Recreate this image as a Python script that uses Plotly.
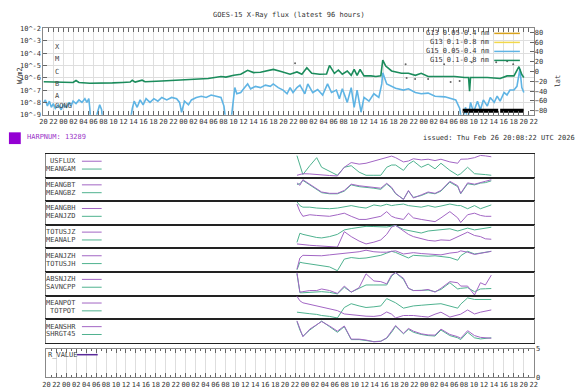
import plotly.graph_objects as go
import pandas as pd

W, H = 588, 392
START = pd.Timestamp("2026-02-22 20:00")
END = pd.Timestamp("2026-02-26 22:00")

# ---------------- GOES-15 data (hours since START, log10 flux) ----------------
G15_LONG_H = [0.0, 2.96, 5.92, 6.51, 7.10, 9.27, 11.83, 13.80, 15.77, 17.35, 17.75, 18.34, 19.72, 20.31,
              23.66, 27.61, 31.55, 32.93, 35.49, 36.48, 38.05, 39.44, 40.82, 42.00, 43.38, 44.76, 45.95,
              47.33, 48.71, 49.30, 50.68, 51.66, 52.65, 53.63, 55.21, 56.59, 57.18, 58.17, 58.96, 59.74,
              60.73, 61.52, 62.11, 62.70, 63.29, 64.08, 65.46, 66.45, 67.44, 67.83, 68.42, 69.60, 71.57,
              72.96, 74.34, 75.52, 76.90, 79.46, 82.22, 84.19, 84.98, 85.18, 85.37, 88.73, 91.29, 92.68,
              94.06, 95.05, 95.64, 96.03]
G15_LONG_LOG = [-6.32, -6.35, -6.38, -6.22, -6.38, -6.45, -6.45, -6.42, -6.38, -6.35, -6.2, -6.35, -6.2, -6.33,
                -6.27, -6.2, -6.14, -6.06, -5.9, -5.95, -5.8, -5.72, -5.4, -5.58, -5.55, -5.45, -5.32,
                -5.48, -5.64, -5.71, -5.53, -5.71, -5.18, -5.64, -5.71, -5.7, -5.0, -5.64, -5.37, -5.71,
                -5.45, -5.8, -5.32, -5.8, -5.32, -5.85, -5.85, -5.9, -5.85, -4.57, -5.05, -5.45, -5.64,
                -5.64, -5.8, -5.64, -5.9, -5.9, -5.9, -5.98, -5.98, -7.1, -5.98, -5.98, -6.06, -5.85,
                -5.85, -5.1, -5.75, -5.98]

G15_SHORT_H = [0.0, 0.39, 0.79, 1.18, 1.58, 1.97, 2.37, 2.96, 3.55, 3.94, 4.54, 5.13, 5.52, 5.92, 6.51, 7.10,
               7.69, 8.28, 8.68, 9.07, 9.27, 9.46, 10.25, 10.84, 11.24, 11.63, 11.83, 17.35, 17.75, 18.14,
               18.73, 19.32, 19.92, 20.51, 21.30, 22.08, 22.87, 23.66, 24.65, 25.63, 26.62, 27.21, 27.61,
               28.20, 28.99, 29.58, 30.56, 31.55, 32.53, 33.52, 34.51, 35.49, 36.08, 36.48, 37.46, 37.86,
               38.25, 38.65, 39.44, 40.22, 40.82, 41.41, 42.39, 43.38, 44.37, 45.35, 45.94, 46.93, 47.91,
               48.70, 49.30, 49.89, 50.68, 51.27, 52.25, 52.84, 53.83, 54.82, 55.80, 56.79, 57.58, 58.56,
               59.15, 59.74, 60.73, 61.52, 62.11, 62.70, 63.49, 64.08, 65.07, 66.05, 67.04, 67.63, 67.83,
               68.62, 69.60, 70.39, 71.97, 72.96, 74.34, 75.52, 76.90, 78.28, 80.25, 81.44, 82.42, 83.21,
               83.61, 84.39, 84.79, 85.38, 85.97, 86.76, 87.35, 87.94, 88.73, 89.32, 90.11, 90.70, 91.29,
               92.08, 92.67, 93.26, 94.05, 94.65, 95.24, 95.63, 96.03]
G15_SHORT_LOG = [-8.0, -7.8, -8.3, -7.9, -8.4, -8.1, -8.5, -8.2, -8.6, -8.2, -8.4, -8.0, -8.3, -7.9, -8.1, -7.8,
                 -8.0, -7.7, -8.0, -7.7, -8.5, -9.6, -9.6, -8.8, -8.2, -8.6, -9.6, -9.6, -8.5, -7.9,
                 -8.4, -7.8, -8.2, -7.7, -8.0, -7.7, -7.9, -7.6, -7.8, -7.6, -7.7, -8.0, -8.8,
                 -7.9, -8.2, -7.8, -7.6, -7.5, -7.6, -7.4, -7.5, -7.6, -8.3, -9.6, -9.6, -8.2,
                 -6.8, -7.3, -7.2, -6.8, -6.5, -6.9, -6.7, -6.8, -6.6, -6.7, -6.5, -6.8, -7.0,
                 -7.3, -6.8, -7.2, -6.8, -6.6, -7.3, -6.5, -7.2, -6.96, -7.4, -6.5, -7.2, -7.0,
                 -7.7, -6.9, -8.0, -6.8, -8.4, -7.0, -8.8, -7.6, -7.9, -7.3, -7.6, -6.5, -5.6,
                 -6.5, -6.7, -6.85, -7.0, -6.9, -7.2, -7.3, -7.25, -7.5, -7.55, -7.7, -7.8, -8.5,
                 -9.6, -8.4, -9.6, -8.0, -8.8, -7.9, -8.6, -7.8, -8.3, -7.6, -8.0, -7.5, -7.9,
                 -7.2, -7.4, -7.0, -7.0, -6.7, -5.3, -6.8, -7.2]

EVENT_H = [50.3, 72.4, 72.6, 74.3, 76.9, 80.1, 81.4, 83.2, 85.6, 90.5, 92.7, 93.9]
EVENT_LAT = [17, 15, -13, -15, -15, 15, -21, -19, 19, 19, 21, 15]
BAR_START_H = [83.8, 91.3]
BAR_END_H = [90.9, 96.0]
BAR_LAT = -80

# ---------------- SHARP data (hours since START, normalised 0..1) ----------------
SHARP_H = [50.39, 50.98, 51.58, 52.97, 54.36, 55.35, 56.94, 58.52, 59.91, 61.30, 62.89, 64.28, 65.86, 67.25,
           68.44, 69.43, 70.23, 71.81, 72.81, 73.80, 75.38, 76.77, 78.16, 79.35, 81.14, 82.72, 83.32, 84.71,
           86.10, 87.29, 88.28, 89.47]
USFLUX = [0.07, 0.11, 0.14, 0.13, 0.1, 0.07, 0.06, 0.04, 0.43, 0.64, 0.57, 0.61, 0.71, 0.79, 0.86, 0.93,
          0.86, 0.67, 0.71, 0.81, 0.76, 0.79, 0.73, 0.79, 0.67, 0.61, 0.79, 0.8, 0.86, 0.96, 0.94, 0.9]
MEANGAM = [0.95, 0.5, 0.1, 0.5, 0.86, 0.43, 0.24, 0.07, 0.43, 0.5, 0.21, 0.07, 0.07, 0.07, 0.43, 0.53,
           0.53, 0.29, 0.57, 0.71, 0.43, 0.57, 0.36, 0.61, 0.29, 0.07, 0.14, 0.43, 0.14, 0.1, 0.1, 0.07]
MEANGBT = [0.79, 0.68, 0.93, 0.73, 0.52, 0.38, 0.32, 0.32, 0.45, 0.73, 0.66, 0.63, 0.59, 0.55, 0.77, 0.59,
           0.32, 0.04, 0.45, 0.11, 0.25, 0.38, 0.32, 0.45, 0.86, 0.66, 0.32, 0.79, 0.73, 0.82, 0.86, 0.93]
MEANGBZ = [0.72, 0.75, 0.9, 0.7, 0.48, 0.35, 0.3, 0.3, 0.42, 0.7, 0.62, 0.6, 0.55, 0.5, 0.74, 0.55,
           0.3, 0.06, 0.42, 0.14, 0.22, 0.35, 0.3, 0.42, 0.82, 0.62, 0.3, 0.75, 0.7, 0.78, 0.8, 0.88]
MEANGBH = [0.9, 0.56, 0.35, 0.42, 0.39, 0.37, 0.35, 0.42, 0.49, 0.35, 0.21, 0.21, 0.28, 0.35, 0.56, 0.35,
           0.28, 0.21, 0.49, 0.28, 0.21, 0.17, 0.11, 0.28, 0.56, 0.28, 0.07, 0.42, 0.49, 0.39, 0.35, 0.35]
MEANJZD = [1.0, 0.83, 0.76, 0.76, 0.72, 0.7, 0.69, 0.72, 0.76, 0.83, 0.76, 0.72, 0.86, 0.81, 0.89, 0.83,
           0.86, 0.9, 0.83, 0.81, 0.76, 0.83, 0.76, 0.81, 0.9, 0.83, 0.83, 0.69, 0.83, 0.69, 0.76, 0.86]
TOTUSJZ = [0.17, 0.15, 0.13, 0.11, 0.09, 0.07, 0.05, 0.03, 0.72, 0.5, 0.3, 0.17, 0.25, 0.35, 0.6, 0.93,
           1.0, 0.75, 0.6, 0.5, 0.4, 0.33, 0.3, 0.35, 0.33, 0.5, 0.55, 0.7, 0.55, 0.5, 0.4, 0.38]
MEANALP = [0.24, 0.65, 0.6, 0.52, 0.46, 0.44, 0.5, 0.6, 0.8, 0.86, 0.9, 0.96, 0.95, 0.94, 0.93, 0.97,
           1.0, 0.82, 0.77, 0.73, 0.66, 0.75, 0.79, 0.8, 0.85, 0.75, 0.78, 0.88, 0.8, 0.85, 0.9, 0.92]
MEANJZH = [0.1, 0.6, 0.72, 0.72, 0.7, 0.7, 0.74, 0.77, 0.82, 0.84, 0.88, 0.95, 0.88, 0.86, 0.86, 0.9,
           0.92, 0.78, 0.82, 0.84, 0.8, 0.78, 0.76, 0.74, 0.82, 0.86, 0.92, 0.86, 0.76, 0.82, 0.86, 0.9]
TOTUSJH = [0.07, 0.41, 0.38, 0.34, 0.3, 0.27, 0.2, 0.03, 0.55, 0.62, 0.58, 0.6, 0.65, 0.72, 0.82, 0.9,
           0.85, 0.7, 0.6, 0.72, 0.7, 0.68, 0.7, 0.68, 0.62, 0.5, 0.7, 0.9, 0.78, 0.82, 0.85, 0.9]
ABSNJZH = [1.0, 0.13, 0.15, 0.2, 0.2, 0.27, 0.2, 0.07, 0.4, 0.13, 0.33, 0.95, 0.63, 0.6, 0.5, 0.9,
           1.0, 0.75, 0.3, 0.2, 0.2, 0.25, 0.13, 0.3, 0.6, 0.55, 0.4, 0.4, 0.0, 0.55, 0.45, 0.89]
SAVNCPP = [0.95, 0.1, 0.1, 0.12, 0.13, 0.15, 0.12, 0.05, 0.35, 0.13, 0.3, 0.45, 0.45, 0.45, 0.45, 0.85,
           1.0, 0.7, 0.3, 0.2, 0.2, 0.22, 0.15, 0.25, 0.55, 0.27, 0.3, 0.33, 0.15, 0.27, 0.28, 0.29]
MEANPOT = [1.0, 0.8, 0.71, 0.64, 0.57, 0.5, 0.43, 0.36, 0.21, 0.17, 0.14, 0.11, 0.1, 0.14, 0.3, 0.2,
           0.03, 0.14, 0.14, 0.14, 0.1, 0.07, 0.2, 0.29, 0.07, 0.17, 0.2, 0.39, 0.21, 0.29, 0.33, 0.39]
TOTPOT = [0.29, 0.27, 0.24, 0.22, 0.19, 0.14, 0.1, 0.03, 0.5, 0.67, 0.57, 0.5, 0.53, 0.57, 0.9, 0.8,
          0.71, 0.47, 0.53, 0.57, 0.6, 0.64, 0.65, 0.67, 0.55, 0.47, 0.65, 0.93, 0.86, 0.86, 0.86, 0.86]
MEANSHR = [0.96, 0.6, 0.25, 0.59, 0.8, 0.93, 0.73, 0.5, 0.73, 0.14, 0.14, 0.1, 0.02, 0.04, 0.2, 0.5,
           0.75, 0.4, 0.62, 0.5, 0.38, 0.33, 0.32, 0.59, 0.35, 0.25, 0.18, 0.52, 0.3, 0.22, 0.2, 0.18]
SHRGT45 = [0.93, 0.55, 0.27, 0.55, 0.78, 0.95, 0.7, 0.45, 0.7, 0.12, 0.12, 0.08, 0.03, 0.05, 0.18, 0.45,
           0.72, 0.38, 0.58, 0.45, 0.35, 0.3, 0.28, 0.55, 0.3, 0.2, 0.12, 0.45, 0.2, 0.15, 0.18, 0.2]

PANELS = [("USFLUX", USFLUX, "MEANGAM", MEANGAM),
          ("MEANGBT", MEANGBT, "MEANGBZ", MEANGBZ),
          ("MEANGBH", MEANGBH, "MEANJZD", MEANJZD),
          ("TOTUSJZ", TOTUSJZ, "MEANALP", MEANALP),
          ("MEANJZH", MEANJZH, "TOTUSJH", TOTUSJH),
          ("ABSNJZH", ABSNJZH, "SAVNCPP", SAVNCPP),
          ("MEANPOT", MEANPOT, "TOTPOT", TOTPOT),
          ("MEANSHR", MEANSHR, "SHRGT45", SHRGT45)]

HARPNUM = "13289"
ISSUED = "issued: Thu Feb 26 20:08:22 UTC 2026"
TITLE = "GOES-15 X-Ray flux (latest 96 hours)"
GOES_LEGEND = [("G13 0.05-0.4 nm", "#d9a21b"), ("G13 0.1-0.8 nm", "#f2d84a"),
               ("G15 0.05-0.4 nm", "#5fb4e4"), ("G15 0.1-0.8 nm", "#1b8c5c")]
CLASS_LABELS = [("X", -3.5), ("M", -4.5), ("C", -5.5), ("B", -6.5), ("A", -7.5), ("GONG", -8.3)]

FONT = "DejaVu Sans Mono"
PURPLE = "#a266c4"
TEAL = "#4fb28f"
C_SHORT = "#5fb4e4"
C_LONG = "#1b8c5c"


def px(x):
    return x / W


def py(y):
    return 1 - y / H


def T(hours):
    return [START + pd.Timedelta(hours=h) for h in hours]


fig = go.Figure()

# ---------------- top GOES plot ----------------
fig.add_trace(go.Scatter(x=T(G15_SHORT_H), y=[10 ** v for v in G15_SHORT_LOG], mode="lines",
                         line=dict(color=C_SHORT, width=1.6), xaxis="x", yaxis="y"))
fig.add_trace(go.Scatter(x=T(G15_LONG_H), y=[10 ** v for v in G15_LONG_LOG], mode="lines",
                         line=dict(color=C_LONG, width=1.6), xaxis="x", yaxis="y"))
fig.add_trace(go.Scatter(x=T(EVENT_H), y=EVENT_LAT, mode="markers",
                         marker=dict(symbol="circle", size=2, color="#666"),
                         xaxis="x", yaxis="y2"))
for s, e in zip(BAR_START_H, BAR_END_H):
    fig.add_trace(go.Scatter(x=T([s, e]), y=[BAR_LAT, BAR_LAT], mode="lines",
                             line=dict(color="black", width=4), xaxis="x", yaxis="y2"))

axis_font = dict(family=FONT, size=7, color="#333")
top_x = dict(domain=[px(40), px(537)], range=[START, END], type="date", tickformat="%H",
             dtick=7200000, tick0=START, ticks="inside", ticklen=4, tickcolor="#666", tickangle=0,
             mirror="allticks", showline=True, linecolor="#888", linewidth=1,
             showgrid=True, gridcolor="#dedede", gridwidth=1, zeroline=False,
             minor=dict(dtick=3600000, ticks="inside", ticklen=2, tickcolor="#666", showgrid=False),
             tickfont=axis_font, anchor="y")
top_y = dict(domain=[py(113), py(25)], type="log", range=[-9, -2],
             tickvals=[10 ** k for k in range(-9, -1)], ticktext=["10^%d" % k for k in range(-9, -1)],
             ticks="inside", ticklen=4, tickcolor="#666", showline=True, linecolor="#888", mirror=True,
             showgrid=True, gridcolor="#dedede", zeroline=False, tickfont=axis_font, anchor="x")
top_y2 = dict(overlaying="y", side="right", range=[-88, 88], tickvals=list(range(-80, 81, 20)),
              ticks="inside", ticklen=4, tickcolor="#666", showgrid=False, zeroline=False,
              tickfont=axis_font, anchor="x")

layout = dict(width=W, height=H, margin=dict(l=0, r=0, t=0, b=0, pad=0), paper_bgcolor="white",
              plot_bgcolor="white", showlegend=False, font=dict(family=FONT, size=7, color="#333"),
              xaxis=top_x, yaxis=top_y, yaxis2=top_y2)

shapes = []
annotations = []

# legend box of the GOES plot
shapes.append(dict(type="rect", xref="paper", yref="paper", x0=px(444), x1=px(536.5), y0=py(63), y1=py(25.5),
                   fillcolor="white", line=dict(width=0), layer="between"))
for i, (name, col) in enumerate(GOES_LEGEND):
    yy = 30 + 9.2 * i
    annotations.append(dict(x=px(494), y=py(yy), xref="paper", yref="paper", text=name, showarrow=False,
                            xanchor="right", yanchor="middle", font=dict(family=FONT, size=7, color="#333")))
    shapes.append(dict(type="line", xref="paper", yref="paper", x0=px(497), x1=px(523), y0=py(yy), y1=py(yy),
                       line=dict(color=col, width=1.5)))

for lab, lv in CLASS_LABELS:
    annotations.append(dict(x=px(50), y=lv, xref="paper", yref="y", text=lab, showarrow=False,
                            xanchor="left", yanchor="middle", font=dict(family=FONT, size=7, color="#444")))

annotations.append(dict(x=px(289), y=py(11), xref="paper", yref="paper", text=TITLE, showarrow=False,
                        yanchor="middle", font=dict(family=FONT, size=7, color="#333")))
annotations.append(dict(x=px(10), y=py(62), xref="paper", yref="paper", text="W/m2", showarrow=False,
                        textangle=-90, font=dict(family=FONT, size=7, color="#333")))
annotations.append(dict(x=px(568), y=py(70), xref="paper", yref="paper", text="lat", showarrow=False,
                        textangle=-90, font=dict(family=FONT, size=7, color="#333")))

# HARP header
shapes.append(dict(type="rect", xref="paper", yref="paper", x0=px(5), x1=px(17), y0=py(143), y1=py(131),
                   fillcolor="#9400d3", line=dict(width=0)))
annotations.append(dict(x=px(21), y=py(136), xref="paper", yref="paper", text="HARPNUM: " + HARPNUM,
                        showarrow=False, xanchor="left", yanchor="middle",
                        font=dict(family=FONT, size=7, color="#9b35c8")))
annotations.append(dict(x=px(581), y=py(137), xref="paper", yref="paper", text=ISSUED,
                        showarrow=False, xanchor="right", yanchor="middle",
                        font=dict(family=FONT, size=7, color="#333")))

# ---------------- SHARP panels ----------------
TOP, BOT = 153, 346
ph = (BOT - TOP) / len(PANELS)
for i, (n1, v1, n2, v2) in enumerate(PANELS):
    k = 3 + i
    t0 = TOP + ph * i
    t1 = t0 + ph
    layout["xaxis%d" % k] = dict(domain=[px(43), px(537)], range=[START, END], type="date",
                                 showticklabels=False, ticks="", showgrid=False, zeroline=False,
                                 showline=True, mirror=True, linecolor="#222", linewidth=1,
                                 anchor="y%d" % k)
    layout["yaxis%d" % k] = dict(domain=[py(t1), py(t0)], range=[-0.03, 1.03], showticklabels=False,
                                 ticks="", showgrid=False, zeroline=False, showline=True, mirror=True,
                                 linecolor="#888", linewidth=1, anchor="x%d" % k)
    fig.add_trace(go.Scatter(x=T(SHARP_H), y=v2, mode="lines", line=dict(color=TEAL, width=1),
                             xaxis="x%d" % k, yaxis="y%d" % k))
    fig.add_trace(go.Scatter(x=T(SHARP_H), y=v1, mode="lines", line=dict(color=PURPLE, width=1),
                             xaxis="x%d" % k, yaxis="y%d" % k))
    for j, (nm, col) in enumerate([(n1, PURPLE), (n2, TEAL)]):
        yy = t0 + 7.5 + 8 * j
        annotations.append(dict(x=px(75), y=py(yy), xref="paper", yref="paper", text=nm, showarrow=False,
                                xanchor="right", yanchor="middle", font=dict(family=FONT, size=7, color="#444")))
        shapes.append(dict(type="line", xref="paper", yref="paper", x0=px(79), x1=px(99), y0=py(yy), y1=py(yy),
                           line=dict(color=col, width=1)))

# ---------------- R_VALUE panel ----------------
layout["xaxis11"] = dict(domain=[px(43), px(537)], range=[START, END], type="date", tickformat="%H",
                         dtick=7200000, tick0=START, ticks="inside", ticklen=4, tickcolor="#666", tickangle=0,
                         mirror="allticks", showline=True, linecolor="#888", showgrid=True,
                         gridcolor="#dedede", zeroline=False,
                         minor=dict(dtick=3600000, ticks="inside", ticklen=2, tickcolor="#666", showgrid=False),
                         tickfont=axis_font, anchor="y11")
layout["yaxis11"] = dict(domain=[py(381), py(352)], range=[0, 5], side="right", tickvals=[0, 5],
                         ticks="", showgrid=False, zeroline=False, showline=True, mirror=True,
                         linecolor="#888", tickfont=axis_font, anchor="x11")
fig.add_trace(go.Scatter(x=[START], y=[None], mode="lines", line=dict(color="#5a2a9a", width=1.5),
                         xaxis="x11", yaxis="y11"))
annotations.append(dict(x=px(43), y=py(358), xref="paper", yref="paper", text="R_VALUE", showarrow=False,
                        xanchor="left", yanchor="middle", font=dict(family=FONT, size=7, color="#444")))
shapes.append(dict(type="line", xref="paper", yref="paper", x0=px(74), x1=px(95), y0=py(358), y1=py(358),
                   line=dict(color="#5a2a9a", width=1.5)))

layout["shapes"] = shapes
layout["annotations"] = annotations
fig.update_layout(**layout)
fig.write_html("out.html", config={"displayModeBar": False, "staticPlot": True},
               post_script="document.body.style.margin='0';document.body.style.overflow='hidden';")
